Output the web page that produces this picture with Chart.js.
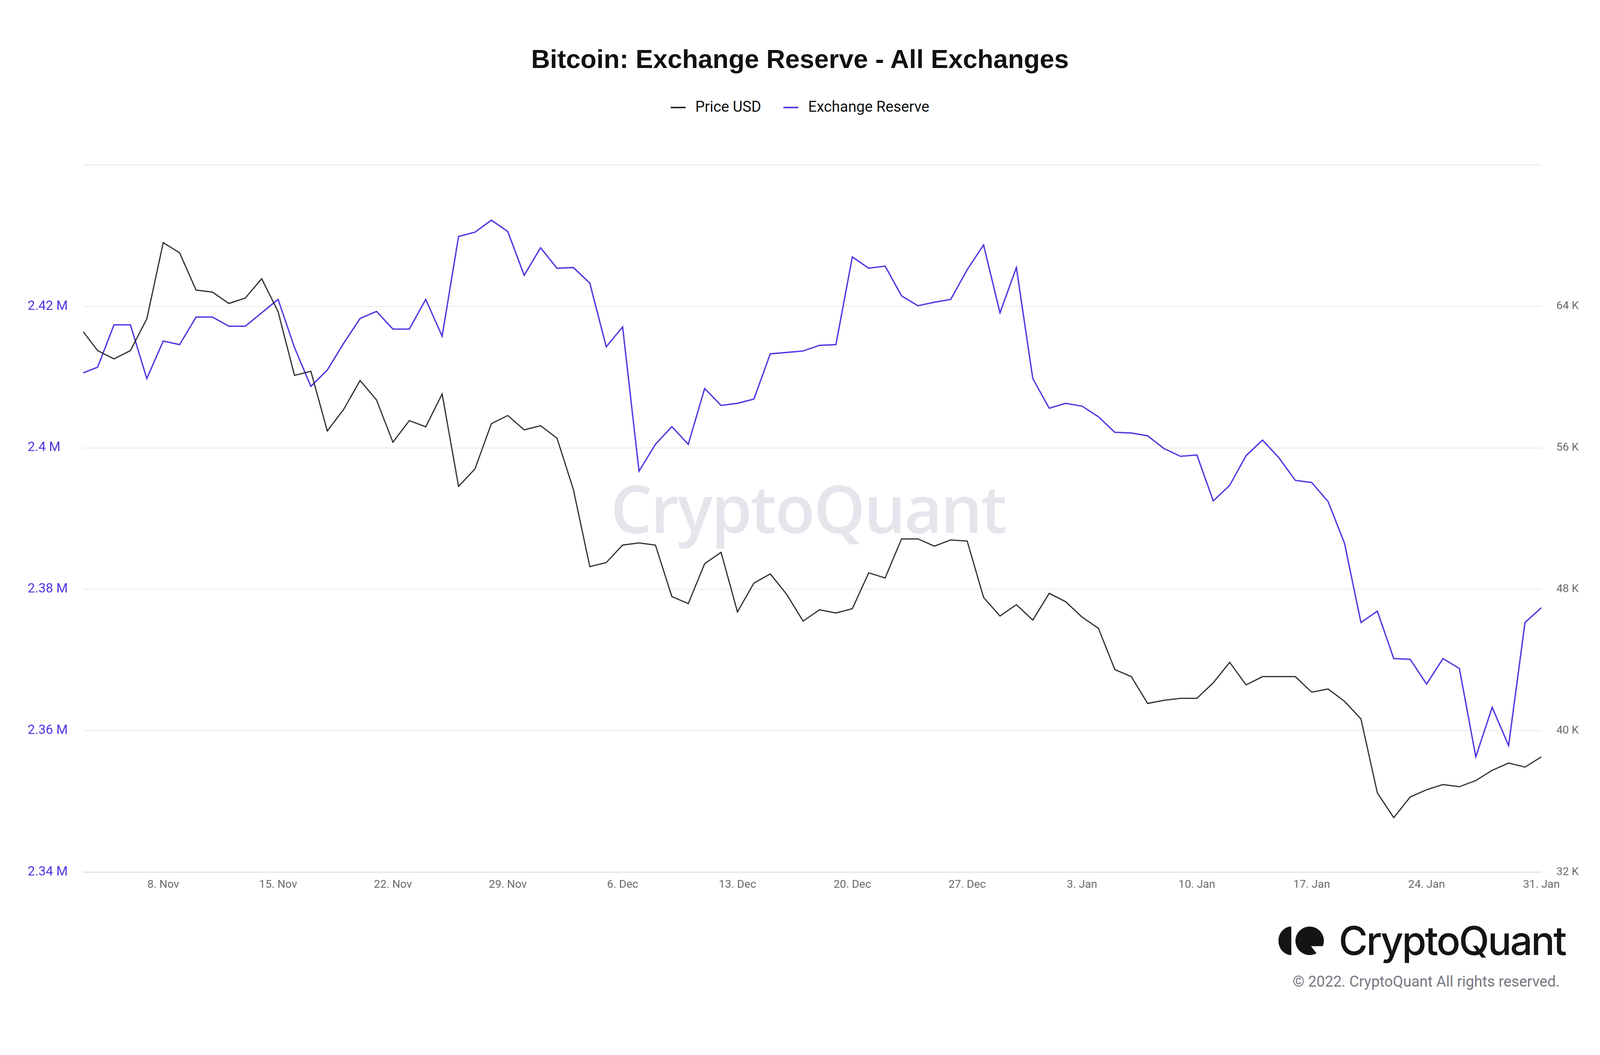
<!DOCTYPE html>
<html><head><meta charset="utf-8">
<script src="https://cdn.jsdelivr.net/npm/chart.js@4"></script>
<style>
html,body{margin:0;padding:0;overflow:hidden;background:#fff}
#page{width:4287px;height:2700px;background:#fff;font-family:Roboto,"Liberation Sans",sans-serif;position:absolute;left:0;top:0;transform-origin:0 0}
#title{position:absolute;top:118px;left:0;width:100%;text-align:center;font:bold 70px "Liberation Sans",Arial,sans-serif;color:#111}
#legend{position:absolute;top:262px;left:0;width:100%;display:flex;justify-content:center;gap:60px;font:40px Roboto,sans-serif;color:#111}
#legend span i{display:inline-block;width:40px;height:4px;vertical-align:middle;margin-right:26px}
#wm{position:absolute;top:1240px;left:0;width:4330px;text-align:center;font:600 176px "Open Sans",sans-serif;color:#e6e5ec;letter-spacing:-4px}
#wrap{position:absolute;left:0;top:0;width:4287px;height:2450px}
#logo{position:absolute;left:3425px;top:2455px;display:flex;align-items:center}
#logo .t{font:500 106px Inter,sans-serif;color:#141414;letter-spacing:-4px;margin-left:34px}
#copy{position:absolute;right:108px;top:2606px;font:40px Roboto,sans-serif;color:#77777f}
</style></head><body>
<div id="page">
<div id="wm">CryptoQuant</div>
<div id="title">Bitcoin: Exchange Reserve - All Exchanges</div>
<div id="legend"><span><i style="background:#222"></i>Price USD</span><span><i style="background:#4b2fe0"></i>Exchange Reserve</span></div>
<div id="wrap"><canvas id="c" width="4287" height="2450"></canvas></div>
<div id="logo">
<svg width="128" height="80" viewBox="0 0 140 88"><path d="M38 2 A38 42 0 0 0 38 86 Z" fill="#141414"/><circle cx="92" cy="44" r="42" fill="#141414"/><path d="M96 60 L118 88 L140 88 L140 60 Z" fill="#fff"/></svg>
<span class="t">CryptoQuant</span></div>
<div id="copy">© 2022. CryptoQuant All rights reserved.</div>
</div>
<script>
// day offsets relative to 8 Nov (-5 = 3 Nov ... 84 = 31 Jan)
const startDay = -5;
const reserve = [2.4105,2.4114,2.4174,2.4174,2.4098,2.4151,2.4146,2.4185,2.4185,2.4172,
 2.4172,2.4191,2.4210,2.4142,2.4087,2.4110,2.4148,2.4183,2.4193,2.4168,
 2.4168,2.4210,2.4158,2.4299,2.4305,2.4322,2.4306,2.4244,2.4283,2.4254,
 2.4255,2.4233,2.4143,2.4171,2.3967,2.4005,2.4030,2.4005,2.4084,2.4060,
 2.4063,2.4069,2.4133,2.4135,2.4137,2.4145,2.4146,2.4270,2.4254,2.4257,
 2.4215,2.4201,2.4206,2.4210,2.4252,2.4287,2.4191,2.4255,2.4098,2.4056,
 2.4063,2.4059,2.4044,2.4022,2.4021,2.4017,2.3999,2.3988,2.3990,2.3925,
 2.3947,2.3989,2.4011,2.3986,2.3954,2.3951,2.3924,2.3865,2.3753,2.3769,
 2.3702,2.3701,2.3666,2.3702,2.3688,2.3563,2.3633,2.3579,2.3753,2.3774];
const priceK = [62.72,61.50,61.03,61.50,63.30,67.61,67.03,64.93,64.81,64.17,
 64.47,65.57,63.71,60.10,60.33,56.96,58.18,59.81,58.71,56.32,
 57.54,57.19,59.05,53.82,54.81,57.37,57.83,57.02,57.25,56.55,
 53.64,49.28,49.51,50.50,50.62,50.50,47.59,47.19,49.45,50.09,
 46.72,48.35,48.87,47.71,46.20,46.84,46.66,46.90,48.93,48.64,
 50.85,50.85,50.44,50.79,50.73,47.54,46.49,47.13,46.26,47.77,
 47.30,46.43,45.79,43.46,43.06,41.54,41.72,41.83,41.83,42.71,
 43.87,42.59,43.06,43.06,43.06,42.18,42.36,41.66,40.67,36.48,
 35.08,36.25,36.66,36.95,36.83,37.18,37.76,38.17,37.94,38.52];
const xLabels = ['8. Nov','15. Nov','22. Nov','29. Nov','6. Dec','13. Dec','20. Dec','27. Dec','3. Jan','10. Jan','17. Jan','24. Jan','31. Jan'];

const page = document.getElementById('page');
const sc = Math.min(window.innerWidth/4287, window.innerHeight/2700);
page.style.transform = 'scale('+sc+')';

const pts = arr => arr.map((v,i)=>({x:startDay+i,y:v}));
new Chart(document.getElementById('c'),{
  type:'line',
  data:{datasets:[
    {label:'Price USD',data:pts(priceK.map(v=>v*1000)),yAxisID:'yr',borderColor:'#222',borderWidth:3,pointRadius:0,tension:0},
    {label:'Exchange Reserve',data:pts(reserve.map(v=>v*1e6)),yAxisID:'yl',borderColor:'#4b2fe0',borderWidth:3.5,pointRadius:0,tension:0}
  ]},
  options:{responsive:false,animation:false,devicePixelRatio:1,
    layout:{padding:{top:442,left:74,right:0,bottom:0}},
    plugins:{legend:{display:false},tooltip:{enabled:false}},
    scales:{
      x:{type:'linear',min:-4.875,max:84,
        afterBuildTicks:s=>{s.ticks=xLabels.map((l,i)=>({value:i*7}));},
        afterFit:s=>{s.height=114;},
        grid:{display:false,drawTicks:true,tickLength:10,color:'#ccd6eb'},
        border:{color:'#ccd6eb',width:2},
        ticks:{color:'#666',font:{size:30,family:'Roboto'},padding:6,maxRotation:0,autoSkip:false,callback:v=>xLabels[v/7]}},
      yl:{position:'left',min:2.34e6,max:2.44e6,
        afterBuildTicks:s=>{s.ticks=[2.34e6,2.36e6,2.38e6,2.40e6,2.42e6,2.44e6].map(v=>({value:v}));},
        afterFit:s=>{s.width=149;},
        grid:{color:'#e6e6e6',lineWidth:2,drawTicks:false},border:{display:false},
        ticks:{color:'#4b2fe0',font:{size:35,family:'Roboto'},crossAlign:'far',padding:0,
          callback:v=>v>=2.44e6?'':(v/1e6).toFixed(v%1e5===0?1:2).replace(/\.?0+$/,'')+' M'}},
      yr:{position:'right',min:32000,max:72000,
        afterBuildTicks:s=>{s.ticks=[32000,40000,48000,56000,64000,72000].map(v=>({value:v}));},
        afterFit:s=>{s.width=157;},
        grid:{display:false,drawTicks:false},border:{display:false},
        ticks:{color:'#666',font:{size:30,family:'Roboto'},padding:40,callback:v=>v>=72000?'':(v/1000)+' K'}}
    }}
});
</script></body></html>
